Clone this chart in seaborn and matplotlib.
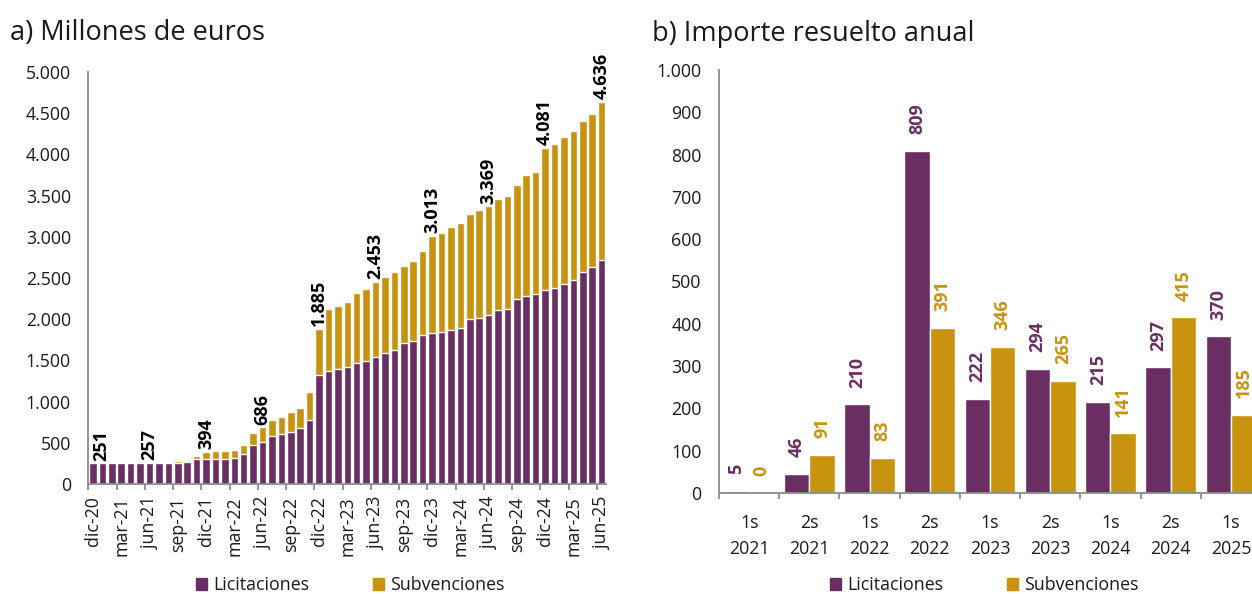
import numpy as np
import pandas as pd
import matplotlib
matplotlib.use("Agg")
import matplotlib.pyplot as plt
import matplotlib.patches as mpatches
import seaborn as sns

# ── Data ──────────────────────────────────────────────────────────────────────
MESES = ["dic-20", "ene-21", "feb-21", "mar-21", "abr-21", "may-21", "jun-21",
         "jul-21", "ago-21", "sep-21", "oct-21", "nov-21", "dic-21",
         "ene-22", "feb-22", "mar-22", "abr-22", "may-22", "jun-22",
         "jul-22", "ago-22", "sep-22", "oct-22", "nov-22", "dic-22",
         "ene-23", "feb-23", "mar-23", "abr-23", "may-23", "jun-23",
         "jul-23", "ago-23", "sep-23", "oct-23", "nov-23", "dic-23",
         "ene-24", "feb-24", "mar-24", "abr-24", "may-24", "jun-24",
         "jul-24", "ago-24", "sep-24", "oct-24", "nov-24", "dic-24",
         "ene-25", "feb-25", "mar-25", "abr-25", "may-25", "jun-25"]

# cumulative millions of euros
LIC_ACUM = [251, 252, 253, 254, 255, 256, 257,
            257, 258, 260, 263, 300, 302,
            303, 308, 318, 370, 468, 512,
            588, 606, 626, 674, 782, 1321,
            1370, 1394, 1418, 1466, 1492, 1543,
            1590, 1625, 1708, 1732, 1812, 1837,
            1846, 1874, 1898, 1998, 2020, 2052,
            2110, 2126, 2250, 2283, 2307, 2349,
            2378, 2430, 2470, 2570, 2635, 2719]
SUB_ACUM = [0, 0, 0, 0, 0, 0, 0,
            0, 0, 14, 15, 40, 92,
            92, 92, 97, 105, 150, 174,
            193, 203, 243, 243, 336, 564,
            757, 769, 786, 850, 880, 910,
            926, 947, 940, 972, 1017, 1176,
            1196, 1248, 1268, 1284, 1306, 1317,
            1352, 1372, 1380, 1471, 1483, 1732,
            1749, 1777, 1810, 1830, 1860, 1917]

SEMESTRES = ["1s\n2021", "2s\n2021", "1s\n2022", "2s\n2022", "1s\n2023",
             "2s\n2023", "1s\n2024", "2s\n2024", "1s\n2025"]
LIC_SEM = [5, 46, 210, 809, 222, 294, 215, 297, 370]
SUB_SEM = [0, 91, 83, 391, 346, 265, 141, 415, 185]

PURPLE = "#6B2E63"
GOLD = "#C8930F"
AXIS_GREY = "#8c8c8c"
TXT = "#1a1a1a"
TICK_FS = 12.8


def miles(v):
    return f"{v:,.0f}".replace(",", ".")


# ── Style ─────────────────────────────────────────────────────────────────────
sns.set_theme(style="white")
plt.rcParams["font.family"] = ["Open Sans", "DejaVu Sans"]
plt.rcParams["text.color"] = TXT
plt.rcParams["xtick.color"] = AXIS_GREY
plt.rcParams["ytick.color"] = AXIS_GREY
plt.rcParams["xtick.labelcolor"] = TXT
plt.rcParams["ytick.labelcolor"] = TXT

W, H = 1252, 594
fig = plt.figure(figsize=(W / 100, H / 100), dpi=100)
ax1 = fig.add_axes([88.3 / W, 110 / H, 518 / W, 412 / H])
ax2 = fig.add_axes([719 / W, 101 / H, 542 / W, 423 / H])


def style_axes(ax):
    for s in ["top", "right"]:
        ax.spines[s].set_visible(False)
    for s in ["left", "bottom"]:
        ax.spines[s].set_color(AXIS_GREY)
        ax.spines[s].set_linewidth(1.3)
    ax.tick_params(axis="y", which="major", length=4.5, width=1.3, pad=8,
                   labelsize=TICK_FS)
    ax.tick_params(axis="x", which="major", length=0, labelsize=TICK_FS)
    ax.tick_params(axis="x", which="minor", length=4, width=1.3,
                   color=AXIS_GREY, bottom=True)
    ax.set_xlabel("")
    ax.set_ylabel("")


# =============================================================================
# a) Millones de euros — stacked cumulative bars
# =============================================================================
totales = [l + s for l, s in zip(LIC_ACUM, SUB_ACUM)]
df_a = pd.DataFrame({"mes": MESES, "lic": LIC_ACUM, "total": totales})

sns.barplot(data=df_a, x="mes", y="total", color=GOLD, width=0.8,
            saturation=1, ax=ax1)
sns.barplot(data=df_a, x="mes", y="lic", color=PURPLE, width=0.8,
            saturation=1, ax=ax1)

ax1.set_xlim(-0.5, len(MESES) - 0.5)
ax1.set_ylim(0, 5000)
ax1.set_yticks(np.arange(0, 5001, 500))
ax1.set_yticklabels([miles(v) for v in np.arange(0, 5001, 500)])
idx = list(range(0, len(MESES), 3))
ax1.set_xticks(idx)
ax1.set_xticklabels([MESES[i] for i in idx], rotation=90)
ax1.set_xticks(np.arange(-0.5, len(MESES) - 1, 3), minor=True)
style_axes(ax1)
ax1.tick_params(axis="x", which="major", pad=9)

# semi-annual total labels
for i in range(0, len(MESES), 6):
    dx = 6 if i == 0 else 0
    ax1.annotate(miles(totales[i]), (i, totales[i]), xytext=(dx, 2),
                 textcoords="offset points", rotation=90, ha="center",
                 va="bottom", fontsize=13, fontweight="bold", color="black",
                 annotation_clip=False)

# =============================================================================
# b) Importe resuelto anual — grouped bars
# =============================================================================
df_b = pd.DataFrame({
    "semestre": SEMESTRES * 2,
    "importe": LIC_SEM + SUB_SEM,
    "serie": ["Licitaciones"] * len(SEMESTRES) + ["Subvenciones"] * len(SEMESTRES),
})
sns.barplot(data=df_b, x="semestre", y="importe", hue="serie",
            palette=[PURPLE, GOLD], width=0.84, gap=0, saturation=1,
            legend=False, ax=ax2)

ax2.set_xlim(-0.5, len(SEMESTRES) - 0.5)
ax2.set_ylim(0, 1000)
ax2.set_yticks(np.arange(0, 1001, 100))
ax2.set_yticklabels([miles(v) for v in np.arange(0, 1001, 100)])
ax2.set_xticks(range(len(SEMESTRES)))
ax2.set_xticklabels(SEMESTRES, linespacing=1.6)
ax2.set_xticks(np.arange(-0.5, len(SEMESTRES), 1), minor=True)
style_axes(ax2)
ax2.tick_params(axis="x", which="major", pad=15)

for cont, col in zip(ax2.containers, [PURPLE, GOLD]):
    ax2.bar_label(cont, fmt="%.0f", padding=12, rotation=90, color=col,
                  fontsize=13, fontweight="bold", clip_on=False)

# ── Titles & legends ─────────────────────────────────────────────────────────
fig.text(10 / W, 1 - 40 / H, "a) Millones de euros", fontsize=19.5,
         va="baseline", ha="left")
fig.text(652 / W, 1 - 41 / H, "b) Importe resuelto anual", fontsize=19.5,
         va="baseline", ha="left")

handles = [mpatches.Patch(color=PURPLE, label="Licitaciones"),
           mpatches.Patch(color=GOLD, label="Subvenciones")]
for cx in (350 / W, 984 / W):
    fig.legend(handles=handles, loc="center", bbox_to_anchor=(cx, 9 / H),
               ncol=2, frameon=False, fontsize=12.8, handlelength=0.65,
               handleheight=0.65, handletextpad=0.3, columnspacing=3.6,
               borderpad=0)

fig.savefig("out.png", dpi=100)
